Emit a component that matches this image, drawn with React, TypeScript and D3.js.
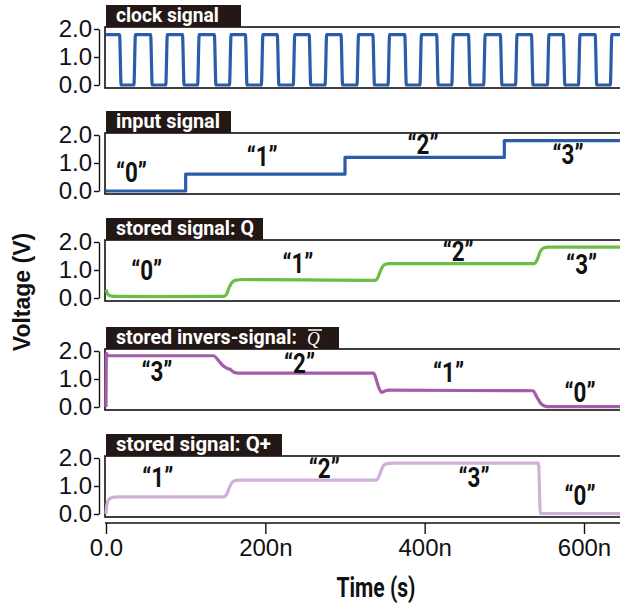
import React, { useRef, useEffect } from 'react';
import * as d3 from 'd3';

// clock edges (ns)
const clockFall = [18, 57, 97, 137, 176, 216, 256, 296, 336, 376, 416, 456, 496, 535, 575, 615];
const clockRise = [36, 76, 116, 156, 196, 236, 276, 316, 355, 395, 435, 475, 515, 555, 594, 634];
const clockLevels = [0.0, 1.8];

const inputTimes = [0, 100, 300, 500, 650];
const inputValues = [0, 0.6, 1.2, 1.8, 1.8];

const qTimes = [0, 2, 5, 10, 60, 148, 151, 155, 159, 164, 170, 250, 338, 341, 345, 349, 355, 450, 538, 541, 545, 549, 555, 650];
const qValues = [0.3, 0.15, 0.08, 0.06, 0.05, 0.06, 0.12, 0.4, 0.58, 0.64, 0.66, 0.65, 0.63, 0.72, 1.0, 1.18, 1.23, 1.23, 1.23, 1.35, 1.65, 1.78, 1.82, 1.82];

const qbTimes = [0, 0.5, 2, 6, 135, 140, 146, 152, 156, 160, 166, 250, 336, 339, 343, 346, 350, 356, 450, 536, 540, 546, 552, 556, 650];
const qbValues = [0, 1.92, 1.84, 1.83, 1.83, 1.7, 1.5, 1.38, 1.34, 1.25, 1.21, 1.21, 1.21, 1.0, 0.65, 0.52, 0.57, 0.6, 0.59, 0.58, 0.4, 0.12, 0.02, 0.01, 0.01];

const qpTimes = [0, 1, 3, 6, 10, 16, 60, 148, 151, 155, 158, 162, 168, 250, 339, 342, 346, 349, 353, 360, 450, 543, 544, 545, 548, 650];
const qpValues = [0, 0.3, 0.5, 0.57, 0.6, 0.61, 0.61, 0.61, 0.68, 0.95, 1.12, 1.19, 1.21, 1.21, 1.21, 1.3, 1.6, 1.75, 1.8, 1.82, 1.82, 1.82, 1.0, 0.02, 0.01, 0.01];

const panelTitles = ['clock signal', 'input signal', 'stored signal: Q', 'stored invers-signal:', 'stored signal: Q+'];
const panelColors = ['#2a5caa', '#2a5caa', '#6cbd45', '#a45ea9', '#d0b0d8'];

const inputLabels = ['“0”', '“1”', '“2”', '“3”'];
const inputLabelT = [32, 196, 398, 580];
const inputLabelV = [0.63, 1.23, 1.65, 1.28];
const qLabels = ['“0”', '“1”', '“2”', '“3”'];
const qLabelT = [51, 241, 442, 597];
const qLabelV = [0.95, 1.21, 1.64, 1.19];
const qbLabels = ['“3”', '“2”', '“1”', '“0”'];
const qbLabelT = [64, 243, 430, 595];
const qbLabelV = [1.25, 1.52, 1.2, 0.51];
const qpLabels = ['“1”', '“2”', '“3”', '“0”'];
const qpLabelT = [65, 274, 462, 595];
const qpLabelV = [1.28, 1.6, 1.28, 0.64];

const xTicks = [0, 200, 400, 600];
const xTickLabels = ['0.0', '200n', '400n', '600n'];
const yTicks = [0, 1, 2];
const yTickLabels = ['0.0', '1.0', '2.0'];

const App = () => {
  const ref = useRef<SVGSVGElement>(null);

  useEffect(() => {
    const svg = d3.select(ref.current);
    svg.selectAll('*').remove();

    // no condensed face installed, so squeeze Roboto horizontally
    const narrow = 'Roboto, "Liberation Sans", sans-serif';
    const plain = '"Liberation Sans", Arial, sans-serif';

    const x = d3.scaleLinear().domain([0, 600]).range([106, 584]);

    const panelTop = [27, 133, 240, 349, 456];
    const panelH = 61;
    const titleW = [135, 125, 157, 233, 176];
    const titleLen = [103, 104, 138, 181, 155];

    // clock as a list of points
    const edges = [
      ...clockFall.map(t => ({ t, to: clockLevels[0], from: clockLevels[1] })),
      ...clockRise.map(t => ({ t, to: clockLevels[1], from: clockLevels[0] })),
    ].sort((a, b) => a.t - b.t);
    const clockPts: [number, number][] = [[0, clockLevels[1]]];
    edges.forEach(e => {
      clockPts.push([e.t - 1, e.from]);
      clockPts.push([e.t + 1, e.to]);
    });
    clockPts.push([650, clockLevels[1]]);

    const zip = (ts: number[], vs: number[]) => ts.map((t, i) => [t, vs[i]] as [number, number]);

    const series = [
      { pts: clockPts, curve: d3.curveMonotoneX },
      { pts: zip(inputTimes, inputValues), curve: d3.curveStepAfter },
      { pts: zip(qTimes, qValues), curve: d3.curveMonotoneX },
      { pts: zip(qbTimes, qbValues), curve: d3.curveMonotoneX },
      { pts: zip(qpTimes, qpValues), curve: d3.curveMonotoneX },
    ];

    const labels = [
      null,
      { txt: inputLabels, t: inputLabelT, v: inputLabelV },
      { txt: qLabels, t: qLabelT, v: qLabelV },
      { txt: qbLabels, t: qbLabelT, v: qbLabelV },
      { txt: qpLabels, t: qpLabelT, v: qpLabelV },
    ];

    panelTop.forEach((top, i) => {
      const y = d3.scaleLinear().domain([0, 2]).range([top + panelH - 3, top + 2]);
      const g = svg.append('g');

      // frame
      g.append('rect')
        .attr('x', 105).attr('y', top)
        .attr('width', 540).attr('height', panelH)
        .attr('fill', 'none').attr('stroke', '#111').attr('stroke-width', 1.6);

      // y axis
      const ax = g.append('g')
        .attr('transform', 'translate(99,0)')
        .call(d3.axisLeft(y).tickValues(yTicks).tickFormat((d, k) => yTickLabels[k]).tickSize(5).tickSizeOuter(0));
      ax.select('.domain').attr('stroke', '#111').attr('stroke-width', 1.4);
      ax.selectAll('.tick line').attr('stroke', '#111').attr('stroke-width', 1.4);
      ax.selectAll('.tick text')
        .attr('font-family', plain).attr('font-size', 24).attr('fill', '#111').attr('x', -7);

      // signal
      const line = d3.line<[number, number]>()
        .x(d => x(d[0])).y(d => y(d[1]))
        .curve(series[i].curve);
      g.append('path')
        .attr('d', line(series[i].pts))
        .attr('fill', 'none')
        .attr('stroke', panelColors[i])
        .attr('stroke-width', 3.2)
        .attr('stroke-linejoin', 'round');

      // title tag
      g.append('rect')
        .attr('x', 106).attr('y', top - 22)
        .attr('width', titleW[i]).attr('height', 22)
        .attr('fill', '#231815');
      const title = g.append('text')
        .attr('font-family', narrow).attr('font-weight', 'bold')
        .attr('font-size', 21).attr('fill', '#fff');
      const main = title.append('tspan').text(panelTitles[i]);
      const natural = (main.node() as SVGTextContentElement).getComputedTextLength() || titleLen[i];
      const sx = titleLen[i] / natural;
      title.attr('transform', `translate(116,${top - 5}) scale(${sx},1)`);
      if (i === 3) {
        title.append('tspan')
          .attr('x', (191) / sx).attr('y', 1)
          .attr('font-family', '"Liberation Serif", serif').attr('font-style', 'italic')
          .attr('font-weight', 'normal')
          .attr('font-size', 19)
          .text('Q');
        g.append('line')
          .attr('x1', 308).attr('x2', 322)
          .attr('y1', top - 19).attr('y2', top - 19)
          .attr('stroke', '#fff').attr('stroke-width', 1.5);
      }

      // level labels
      const lb = labels[i];
      if (lb) {
        lb.txt.forEach((s, k) => {
          g.append('text')
            .attr('x', x(lb.t[k])).attr('y', y(lb.v[k]))
            .attr('text-anchor', 'middle').attr('dominant-baseline', 'central')
            .attr('font-family', narrow).attr('font-weight', 'bold')
            .attr('font-size', 27).attr('fill', '#111')
            .attr('textLength', 31).attr('lengthAdjust', 'spacingAndGlyphs')
            .text(s);
        });
      }
    });

    // shared time axis
    const axisY = 523;
    const xa = svg.append('g')
      .attr('transform', `translate(0,${axisY})`)
      .call(d3.axisBottom(x).tickValues(xTicks).tickFormat((d, k) => xTickLabels[k]).tickSize(11).tickSizeOuter(0));
    xa.select('.domain').remove();
    xa.selectAll('.tick line').attr('stroke', '#111').attr('stroke-width', 1.4);
    xa.selectAll('.tick text')
      .attr('font-family', plain).attr('font-size', 24).attr('fill', '#111').attr('y', 16);
    svg.append('line')
      .attr('x1', 105).attr('x2', 620)
      .attr('y1', axisY).attr('y2', axisY)
      .attr('stroke', '#111').attr('stroke-width', 1.6);

    svg.append('text')
      .attr('x', 376).attr('y', 597)
      .attr('text-anchor', 'middle')
      .attr('font-family', narrow).attr('font-weight', 'bold')
      .attr('font-size', 27).attr('fill', '#111')
      .attr('textLength', 79).attr('lengthAdjust', 'spacingAndGlyphs')
      .text('Time (s)');

    svg.append('text')
      .attr('transform', 'translate(30,292) rotate(-90)')
      .attr('text-anchor', 'middle')
      .attr('font-family', plain).attr('font-weight', 'bold')
      .attr('font-size', 23).attr('fill', '#111')
      .text('Voltage (V)');
  }, []);

  return (
    <svg
      ref={ref}
      width={620}
      height={605}
      style={{ position: 'absolute', left: 0, top: 0, background: '#fff' }}
    />
  );
};

export default App;
